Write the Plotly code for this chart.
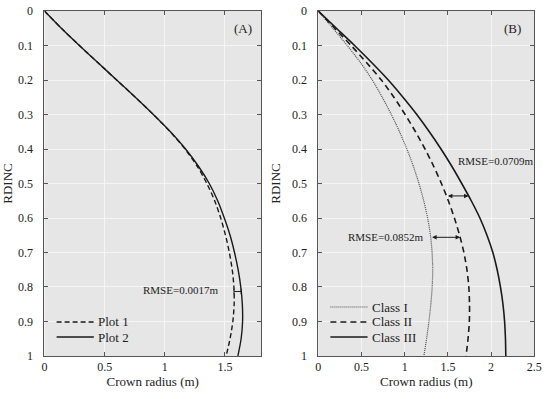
import numpy as np
import plotly.graph_objects as go

# ---- data ----
rdinc = [0, 0.05, 0.1, 0.15, 0.2, 0.25, 0.3, 0.35, 0.4, 0.45, 0.5,
         0.55, 0.6, 0.65, 0.7, 0.75, 0.8, 0.85, 0.9, 0.95, 1.0]

plot1 = [0, 0.14, 0.29, 0.445, 0.6, 0.755, 0.905, 1.045, 1.168, 1.27, 1.35,
         1.415, 1.465, 1.505, 1.537, 1.561, 1.575, 1.577, 1.566, 1.543, 1.51]
plot2 = [0, 0.14, 0.29, 0.445, 0.6, 0.755, 0.905, 1.047, 1.173, 1.28, 1.37,
         1.44, 1.495, 1.543, 1.58, 1.61, 1.632, 1.645, 1.647, 1.635, 1.608]

class1 = [0, 0.17, 0.335, 0.49, 0.625, 0.74, 0.845, 0.94, 1.025, 1.1, 1.165,
          1.22, 1.265, 1.298, 1.317, 1.324, 1.318, 1.302, 1.28, 1.253, 1.222]
class2 = [0, 0.19, 0.38, 0.56, 0.73, 0.875, 1.005, 1.125, 1.235, 1.335, 1.425,
          1.505, 1.575, 1.635, 1.685, 1.72, 1.742, 1.75, 1.748, 1.733, 1.71]
class3 = [0, 0.21, 0.42, 0.62, 0.81, 0.98, 1.14, 1.285, 1.42, 1.545, 1.66,
          1.77, 1.87, 1.952, 2.02, 2.07, 2.108, 2.137, 2.156, 2.166, 2.17]

y_ticks = [0, 0.1, 0.2, 0.3, 0.4, 0.5, 0.6, 0.7, 0.8, 0.9, 1]
y_ticklabels = ["0", "0.1", "0.2", "0.3", "0.4", "0.5", "0.6", "0.7", "0.8", "0.9", "1"]
xa_ticks = [0, 0.5, 1, 1.5]
xa_ticklabels = ["0", "0.5", "1", "1.5"]
xb_ticks = [0, 0.5, 1, 1.5, 2, 2.5]
xb_ticklabels = ["0", "0.5", "1", "1.5", "2", "2.5"]

rmse_a = ("RMSE=0.0017m", 0.813)
rmse_b_upper = ("RMSE=0.0709m", 0.536)
rmse_b_lower = ("RMSE=0.0852m", 0.656)

FONT = "Liberation Serif"
TXT = "#222222"
LINE = "#1a1a1a"

styles = {
    "Plot 1": dict(color=LINE, width=1.4, dash="5px,3px"),
    "Plot 2": dict(color=LINE, width=1.4),
    "Class I": dict(color="#4a4a4a", width=1.2, dash="1px,1px"),
    "Class II": dict(color=LINE, width=1.6, dash="6px,4px"),
    "Class III": dict(color=LINE, width=1.6),
}

fig = go.Figure()

def add(xs, name, xa, ya):
    fig.add_trace(go.Scatter(x=xs, y=rdinc, mode="lines", name=name,
                             line=dict(shape="spline", smoothing=0.8, **styles[name]),
                             xaxis=xa, yaxis=ya, showlegend=False))

add(plot1, "Plot 1", "x", "y")
add(plot2, "Plot 2", "x", "y")
add(class1, "Class I", "x2", "y2")
add(class2, "Class II", "x2", "y2")
add(class3, "Class III", "x2", "y2")

axis_common = dict(
    showline=True, linecolor="#555555", linewidth=1, mirror="ticks",
    ticks="inside", ticklen=4, tickcolor="#555555", automargin=False,
    ticklabeloverflow="allow",
    showgrid=True, gridcolor="#f5f5f5", gridwidth=1, zeroline=False,
    tickfont=dict(family=FONT, size=12, color=TXT),
)

ydom = [0.1078, 0.9724]
fig.update_layout(
    width=550, height=399,
    margin=dict(l=0, r=0, t=0, b=0),
    paper_bgcolor="white", plot_bgcolor="#e6e6e6",
    font=dict(family=FONT, size=12, color=TXT),
    showlegend=False,
    xaxis=dict(domain=[0.0809, 0.4745], range=[0, 1.8], tickvals=xa_ticks,
               ticktext=xa_ticklabels, anchor="y",
               title=dict(text="Crown radius (m)", font=dict(family=FONT, size=13), standoff=2),
               **axis_common),
    yaxis=dict(domain=ydom, range=[1, 0], tickvals=y_ticks, ticktext=y_ticklabels,
               anchor="x", ticklabelstandoff=8,
               title=dict(text="RDINC", font=dict(family=FONT, size=13), standoff=8),
               **axis_common),
    xaxis2=dict(domain=[0.5787, 0.9715], range=[0, 2.5], tickvals=xb_ticks,
                ticktext=xb_ticklabels, anchor="y2",
                title=dict(text="Crown radius (m)", font=dict(family=FONT, size=13), standoff=2),
                **axis_common),
    yaxis2=dict(domain=ydom, range=[1, 0], tickvals=y_ticks, ticktext=y_ticklabels,
                anchor="x2", ticklabelstandoff=8,
                title=dict(text="RDINC", font=dict(family=FONT, size=13), standoff=8),
                **axis_common),
)

annotations = []
# panel labels
annotations.append(dict(text="(A)", x=1.65, y=0.05, xref="x", yref="y", showarrow=False,
                        font=dict(family=FONT, size=13, color=TXT)))
annotations.append(dict(text="(B)", x=2.25, y=0.05, xref="x2", yref="y2", showarrow=False,
                        font=dict(family=FONT, size=13, color=TXT)))

# manual legends (sample line + label) placed in axis-domain coordinates
def legend(names, xref, yref, rows):
    for name, yrow in zip(names, rows):
        st = styles[name]
        fig.add_shape(type="line", x0=0.056, x1=0.228, y0=yrow, y1=yrow,
                      xref=xref + " domain", yref=yref + " domain",
                      line=dict(color=st["color"], width=st["width"], dash=st.get("dash", "solid")))
        annotations.append(dict(text=name, x=0.24, y=yrow, xref=xref + " domain",
                                yref=yref + " domain", xanchor="left", yanchor="middle",
                                showarrow=False, font=dict(family=FONT, size=13, color=TXT)))

legend(["Plot 1", "Plot 2"], "x", "y", [0.0986, 0.055])
legend(["Class I", "Class II", "Class III"], "x2", "y2", [0.142, 0.0986, 0.055])

# Panel A RMSE bar
ya = rmse_a[1]
xa0 = float(np.interp(ya, rdinc, plot1))
xa1 = float(np.interp(ya, rdinc, plot2))
fig.add_shape(type="line", x0=xa0, x1=xa1, y0=ya, y1=ya, xref="x", yref="y",
              line=dict(color=LINE, width=1))
for xv in (xa0, xa1):
    fig.add_shape(type="line", x0=xv, x1=xv, y0=ya - 0.008, y1=ya + 0.008, xref="x", yref="y",
                  line=dict(color=LINE, width=1))
annotations.append(dict(text=rmse_a[0], x=1.46, y=ya - 0.005, xref="x", yref="y",
                        xanchor="right", showarrow=False,
                        font=dict(family=FONT, size=11, color=TXT)))

# Panel B arrows
yu = rmse_b_upper[1]
xu0 = float(np.interp(yu, rdinc, class2))
xu1 = float(np.interp(yu, rdinc, class3))
annotations.append(dict(x=xu1, y=yu, ax=xu0, ay=yu, xref="x2", yref="y2", axref="x2", ayref="y2",
                        text="", showarrow=True, arrowhead=2, arrowside="end+start",
                        arrowsize=0.9, arrowwidth=1, arrowcolor=LINE, standoff=0, startstandoff=0))
annotations.append(dict(text=rmse_b_upper[0], x=1.59, y=0.435, xref="x2", yref="y2",
                        xanchor="left", showarrow=False,
                        font=dict(family=FONT, size=11, color=TXT)))

yl = rmse_b_lower[1]
xl0 = float(np.interp(yl, rdinc, class1))
xl1 = float(np.interp(yl, rdinc, class2))
annotations.append(dict(x=xl1, y=yl, ax=xl0, ay=yl, xref="x2", yref="y2", axref="x2", ayref="y2",
                        text="", showarrow=True, arrowhead=2, arrowside="end+start",
                        arrowsize=0.9, arrowwidth=1, arrowcolor=LINE, standoff=0, startstandoff=0))
annotations.append(dict(text=rmse_b_lower[0], x=xl0 - 0.06, y=yl, xref="x2", yref="y2",
                        xanchor="right", showarrow=False,
                        font=dict(family=FONT, size=11, color=TXT)))

fig.update_layout(annotations=annotations)

fig.write_html("out.html",
               config={"displayModeBar": False},
               post_script="document.body.style.margin='0px';document.body.style.overflow='hidden';")
